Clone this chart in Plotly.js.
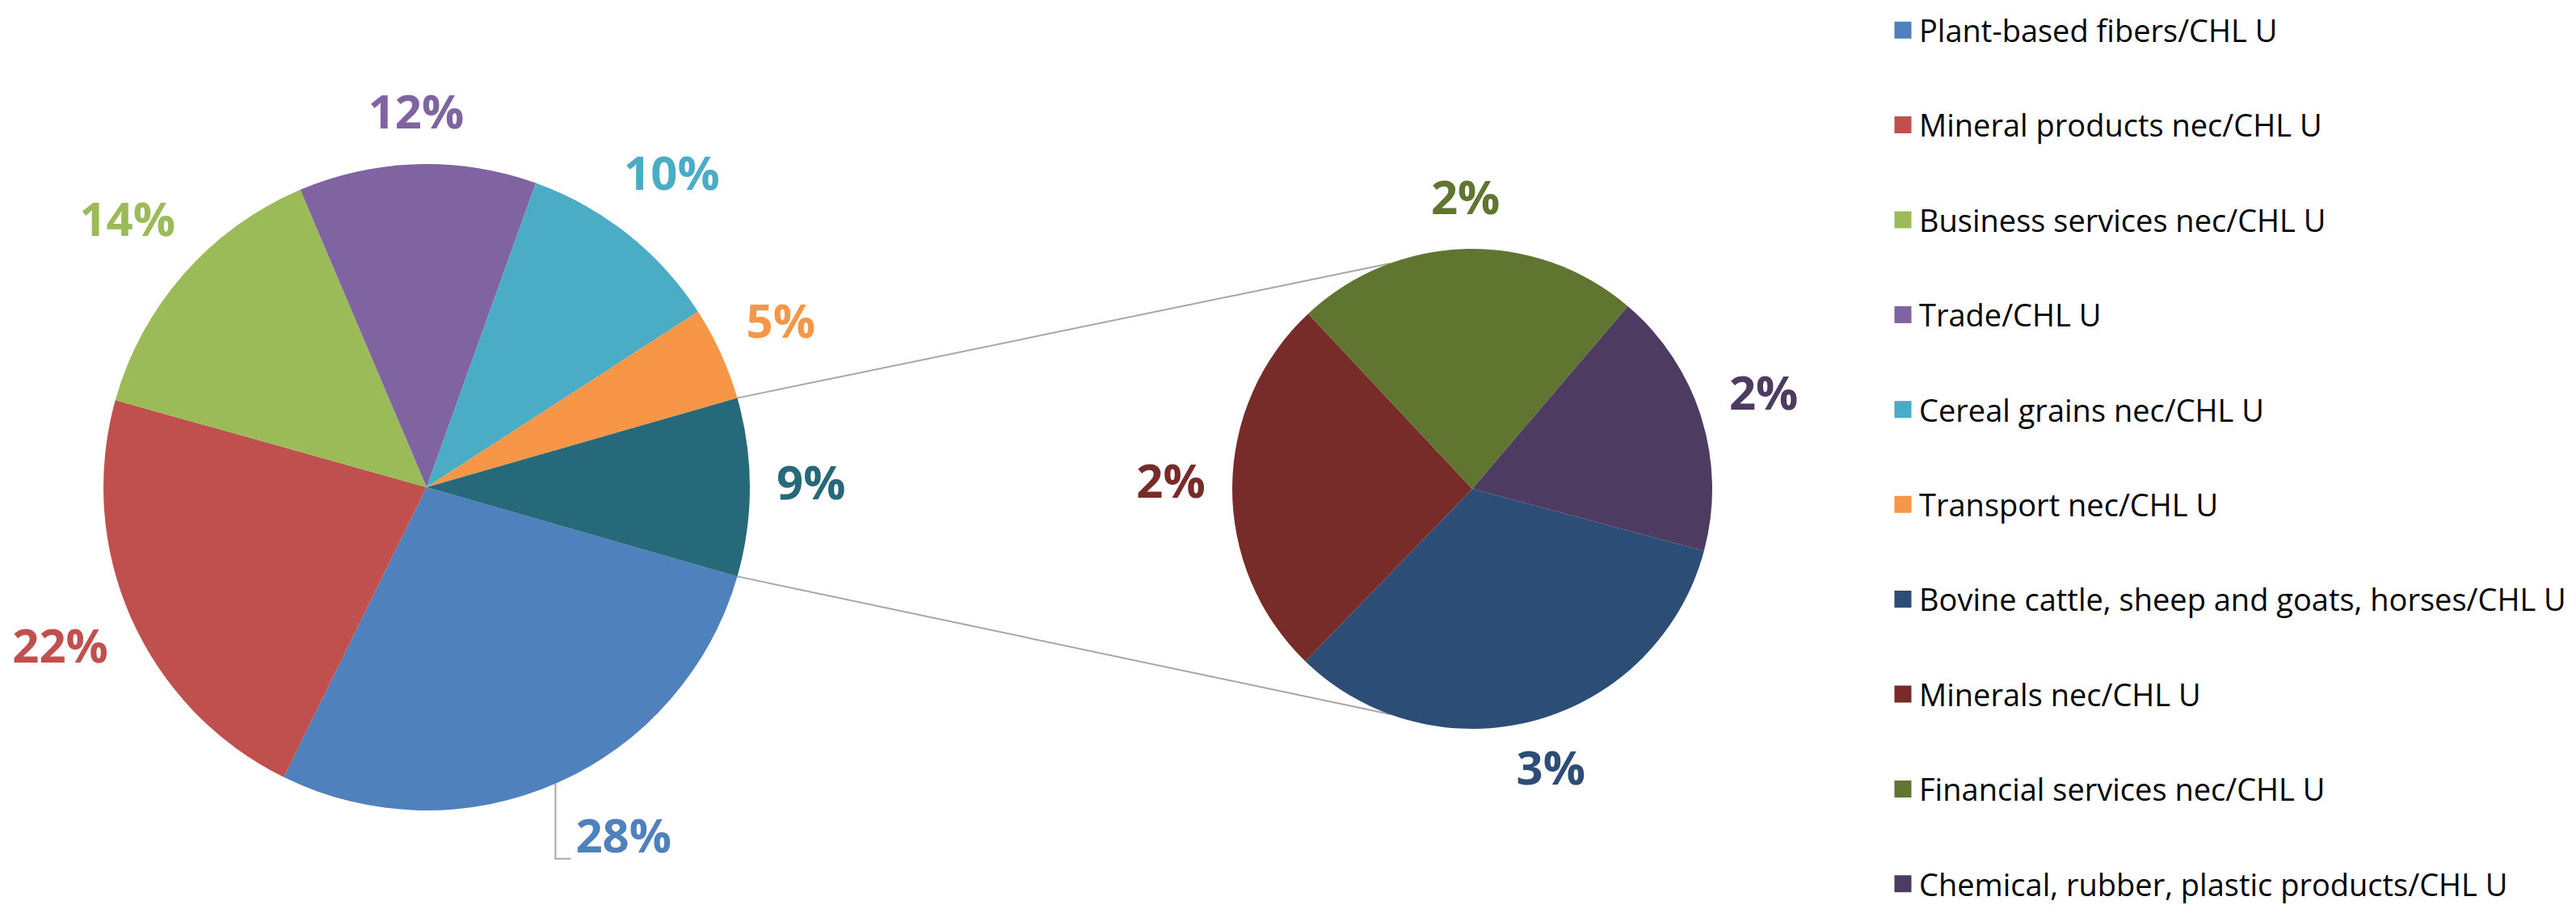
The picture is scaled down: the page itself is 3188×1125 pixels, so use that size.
<!DOCTYPE html>
<html><head><meta charset="utf-8">
<script src="https://cdn.plot.ly/plotly-3.0.1.min.js"></script>
<style>html,body{margin:0;padding:0;background:#fff;} #chart{width:3188px;height:1125px;}</style>
</head><body><div id="chart"></div>
<script>
// ---------------- DATA ----------------
const mainLabels = ["Plant-based fibers/CHL U", "Mineral products nec/CHL U", "Business services nec/CHL U",
                    "Trade/CHL U", "Cereal grains nec/CHL U", "Transport nec/CHL U"];
const mainValues = [27.9, 22.1, 14.3, 11.9, 10.4, 4.7];          // share of total, %
const otherLabel = "Other";
const secondaryLabels = ["Bovine cattle, sheep and goats, horses/CHL U", "Minerals nec/CHL U",
                         "Financial services nec/CHL U", "Chemical, rubber, plastic products/CHL U"];
const secondaryValues = [2.95, 2.3, 2.07, 1.6];                   // share of total, %

// ---------------- STYLE ----------------
const mainColors = ["#4F81BD", "#C0504D", "#9BBB59", "#8064A2", "#4BACC6", "#F79646"];
const otherColor = "#26697A";
const secondaryColors = ["#2C4D75", "#772C2A", "#5F7530", "#4D3B62"];

const W = 3188, H = 1125;
const MAIN = {cx: 528, cy: 603, r: 400};
const SEC = {cx: 1822, cy: 605, r: 297};
const SEC_ROTATION = 105;
const CONNECT_SEC_ANGLES = [340, 200];    // where connector lines meet the secondary pie
const LABEL_FONT = 58, LABEL_GAP = 34, LABEL_H = 46;
const BLUE_LABEL_NUDGE = 50;              // first main label dragged to the right, with leader line
const LINE_COLOR = "#A6A6A6";
const FONT = "'Open Sans', Lato, sans-serif";

// ---------------- DERIVED ----------------
const otherValue = secondaryValues.reduce((a, b) => a + b, 0);
const pieValues = mainValues.concat([otherValue]);
const pieLabels = mainLabels.concat([otherLabel]);
const pieColors = mainColors.concat([otherColor]);
const mainTotal = pieValues.reduce((a, b) => a + b, 0);
const otherDeg = 360 * otherValue / mainTotal;
const MAIN_ROTATION = 90 + otherDeg / 2;

function domainOf(p) {
  return {x: [(p.cx - p.r) / W, (p.cx + p.r) / W], y: [1 - (p.cy + p.r) / H, 1 - (p.cy - p.r) / H]};
}
const rad = d => d * Math.PI / 180;
function pt(p, ang, d) { return [p.cx + d * Math.sin(rad(ang)), p.cy - d * Math.cos(rad(ang))]; }

function labelData(p, values, rotation, colors) {
  const total = values.reduce((a, b) => a + b, 0);
  let a = rotation;
  const xs = [], ys = [], txt = [], cols = [];
  values.forEach((v, i) => {
    const span = 360 * v / total;
    const mid = a + span / 2;
    a += span;
    const t = Math.round(v) + "%";
    const w = ((t.length - 1) * 0.57 + 0.87) * LABEL_FONT;
    const s = Math.sin(rad(mid)), c = Math.cos(rad(mid));
    const d = p.r + LABEL_GAP + Math.abs(s) * w / 2 + Math.abs(c) * LABEL_H / 2;
    const q = pt(p, mid, d);
    xs.push(q[0]); ys.push(q[1]); txt.push(t); cols.push(colors[i]);
  });
  return {xs, ys, txt, cols};
}

const mainLab = labelData(MAIN, pieValues, MAIN_ROTATION, pieColors);
const secLab = labelData(SEC, secondaryValues, SEC_ROTATION, secondaryColors);
// blue label moved right with a leader line
mainLab.xs[0] += BLUE_LABEL_NUDGE;
const blueW = ((mainLab.txt[0].length - 1) * 0.57 + 0.87) * LABEL_FONT;
const leadX = mainLab.xs[0] - blueW / 2 - 26;
const leadStartY = MAIN.cy + Math.sqrt(MAIN.r * MAIN.r - (leadX - MAIN.cx) * (leadX - MAIN.cx));
const leadCornerY = mainLab.ys[0] + 22;
const leadEndX = mainLab.xs[0] - blueW / 2 - 7;

// connectors
const upMain = pt(MAIN, MAIN_ROTATION - otherDeg, MAIN.r);
const lowMain = pt(MAIN, MAIN_ROTATION, MAIN.r);
const upSec = pt(SEC, CONNECT_SEC_ANGLES[0], SEC.r);
const lowSec = pt(SEC, CONNECT_SEC_ANGLES[1], SEC.r);

const traces = [];
traces.push({
  type: "pie", values: pieValues, labels: pieLabels, sort: false, direction: "clockwise",
  rotation: MAIN_ROTATION, domain: domainOf(MAIN), marker: {colors: pieColors, line: {width: 0}},
  textinfo: "none", showlegend: false, hoverinfo: "skip"
});
traces.push({
  type: "pie", values: secondaryValues, labels: secondaryLabels, sort: false, direction: "clockwise",
  rotation: SEC_ROTATION, domain: domainOf(SEC), marker: {colors: secondaryColors, line: {width: 0}},
  textinfo: "none", showlegend: false, hoverinfo: "skip"
});
traces.push({
  type: "scatter", mode: "lines", showlegend: false, hoverinfo: "skip",
  x: [upMain[0], upSec[0], null, lowMain[0], lowSec[0], null, leadX, leadX, leadEndX],
  y: [upMain[1], upSec[1], null, lowMain[1], lowSec[1], null, leadStartY, leadCornerY, leadCornerY],
  line: {color: LINE_COLOR, width: 2}
});
traces.push({
  type: "scatter", mode: "text", showlegend: false, hoverinfo: "skip",
  x: mainLab.xs.concat(secLab.xs), y: mainLab.ys.concat(secLab.ys),
  text: mainLab.txt.concat(secLab.txt).map(t => "<b>" + t + "</b>"), textposition: "middle center",
  textfont: {family: FONT, size: LABEL_FONT, weight: "bold",
             color: mainLab.cols.concat(secLab.cols)}
});
// legend entries
const legNames = mainLabels.concat(secondaryLabels);
const legColors = mainColors.concat(secondaryColors);
legNames.forEach((n, i) => {
  traces.push({
    type: "scatter", mode: "markers", x: [null], y: [null], name: n, legendgroup: "g" + i,
    showlegend: true, hoverinfo: "skip",
    marker: {symbol: "square", size: 16, color: legColors[i], line: {color: legColors[i], width: 5}}
  });
});

const layout = {
  width: W, height: H, margin: {l: 0, r: 0, t: 0, b: 0},
  paper_bgcolor: "#ffffff", plot_bgcolor: "rgba(0,0,0,0)",
  xaxis: {range: [0, W], visible: false, fixedrange: true},
  yaxis: {range: [H, 0], visible: false, fixedrange: true},
  showlegend: true, hovermode: false,
  legend: {x: 2335 / W, xanchor: "left", y: 1 - 9 / H, yanchor: "top",
           traceorder: "grouped", tracegroupgap: 65, bgcolor: "rgba(0,0,0,0)",
           font: {family: FONT, size: 38, color: "#000000"}}
};
Plotly.newPlot("chart", traces, layout, {displayModeBar: false, staticPlot: true});
</script>
</body></html>
